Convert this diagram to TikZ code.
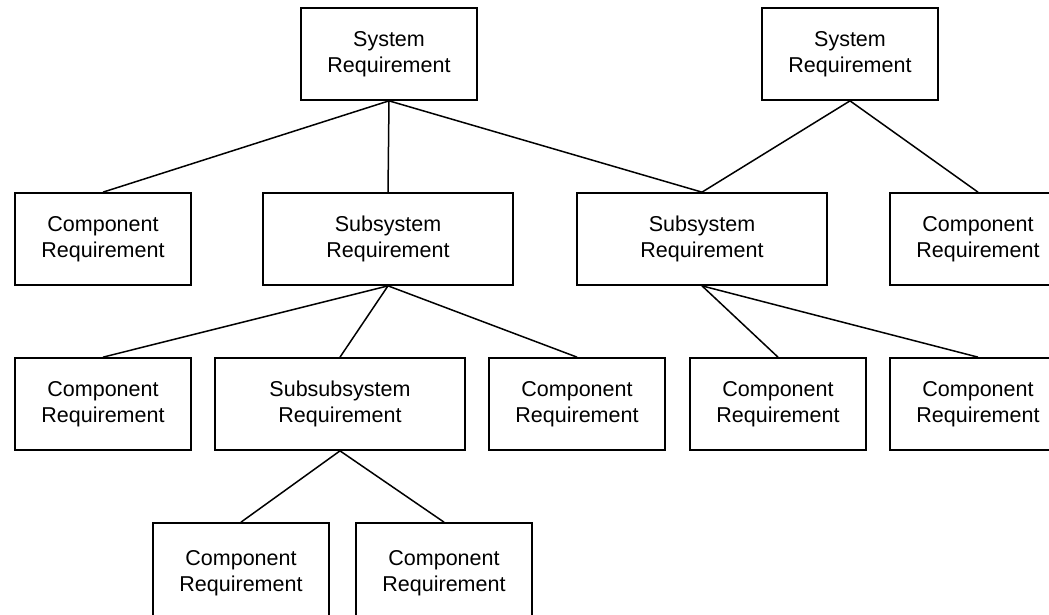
\documentclass[tikz,border=0pt]{standalone}
\usepackage{fontspec}
\setmainfont{Liberation Sans}
\begin{document}
\begin{tikzpicture}[x=1pt, y=-1pt,
  req/.style={draw=black, line width=1.7pt, fill=white, align=center,
    minimum width=176pt, minimum height=92pt, inner sep=0pt,
    font=\fontsize{21.5}{26}\selectfont},
  wide/.style={req, minimum width=250pt},
  cut/.style={req, minimum height=100pt},
  link/.style={draw=black, line width=1.5pt}]
\clip (0,0) rectangle (1049,615);

% top level
\node[req]  (sysA) at (389,54)  {System\\Requirement};
\node[req]  (sysB) at (850,54)  {System\\Requirement};

% second level
\node[req]  (compA) at (103,239) {Component\\Requirement};
\node[wide] (subA)  at (388,239) {Subsystem\\Requirement};
\node[wide] (subB)  at (702,239) {Subsystem\\Requirement};
\node[req]  (compB) at (978,239) {Component\\Requirement};

% third level
\node[req]  (compC) at (103,404) {Component\\Requirement};
\node[wide] (subsub) at (340,404) {Subsubsystem\\Requirement};
\node[req]  (compD) at (577,404) {Component\\Requirement};
\node[req]  (compE) at (778,404) {Component\\Requirement};
\node[req]  (compF) at (978,404) {Component\\Requirement};

% fourth level
\node[cut]  (compG) at (241,573) {Component\\Requirement};
\node[cut]  (compH) at (444,573) {Component\\Requirement};

% connectors
\draw[link] (sysA.south) -- (compA.north);
\draw[link] (sysA.south) -- (subA.north);
\draw[link] (sysA.south) -- (subB.north);
\draw[link] (sysB.south) -- (subB.north);
\draw[link] (sysB.south) -- (compB.north);

\draw[link] (subA.south) -- (compC.north);
\draw[link] (subA.south) -- (subsub.north);
\draw[link] (subA.south) -- (compD.north);
\draw[link] (subB.south) -- (compE.north);
\draw[link] (subB.south) -- (compF.north);

\draw[link] (subsub.south) -- (compG.north);
\draw[link] (subsub.south) -- (compH.north);
\end{tikzpicture}
\end{document}
